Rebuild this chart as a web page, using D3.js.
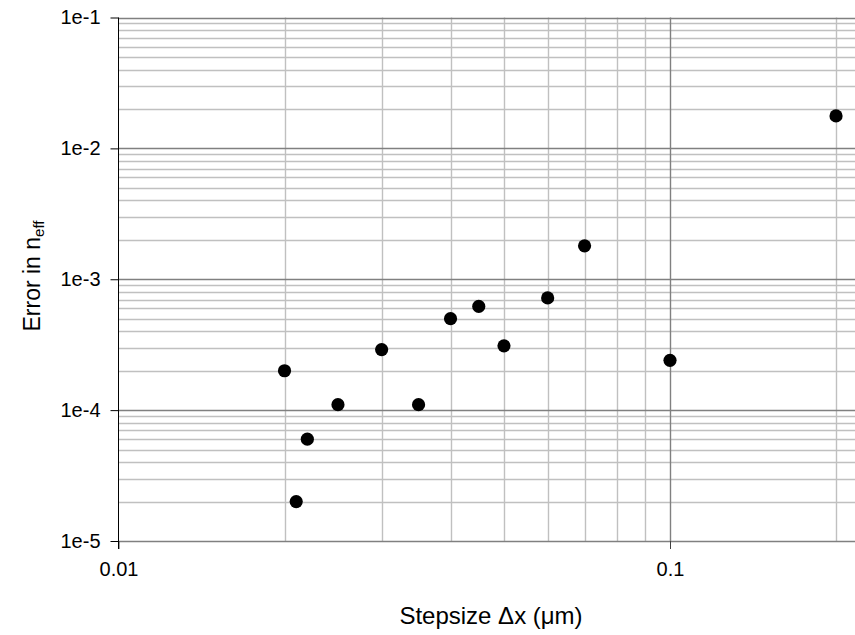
<!DOCTYPE html>
<html>
<head>
<meta charset="utf-8">
<script src="https://cdn.jsdelivr.net/npm/d3@7"></script>
<style>
  body { margin: 0; background: #fff; }
  text { font-family: "Liberation Sans", Arial, sans-serif; }
</style>
</head>
<body>
<svg id="chart"></svg>
<script>
// stepsize (um) vs error in n_eff
var stepsize = [0.02, 0.021, 0.022, 0.025, 0.03, 0.035, 0.04, 0.045, 0.05, 0.06, 0.07, 0.1, 0.2];
var errNeff  = [2.0e-4, 2.0e-5, 6.0e-5, 1.1e-4, 2.9e-4, 1.1e-4, 5.0e-4, 6.2e-4, 3.1e-4, 7.2e-4, 1.8e-3, 2.4e-4, 1.77e-2];

var xTickVals = [0.01, 0.1];
var xTickLabels = ["0.01", "0.1"];
var yTickVals = [1e-5, 1e-4, 1e-3, 1e-2, 1e-1];
var yTickLabels = ["1e-5", "1e-4", "1e-3", "1e-2", "1e-1"];

var svgWidth = 855, svgHeight = 635;
var plotLeft = 118.5, plotTop = 17.5, plotBottom = 541;

var svg = d3.select("#chart")
    .attr("width", svgWidth)
    .attr("height", svgHeight);

var x = d3.scaleLog()
    .domain([0.01, 1])
    .range([plotLeft, plotLeft + 2 * 551.5]);

var y = d3.scaleLog()
    .domain([1e-5, 1e-1])
    .range([plotBottom, plotTop]);

// minor grid values for each decade
function minors(lo, hi) {
  var out = [];
  for (var e = Math.round(Math.log10(lo)); e < Math.round(Math.log10(hi)); e++) {
    for (var k = 2; k <= 9; k++) out.push(k * Math.pow(10, e));
  }
  return out;
}

function px(v) { return Math.round(v) + 0.5; }

var grid = svg.append("g");

grid.selectAll(".hmin")
    .data(minors(1e-5, 1e-1))
    .enter().append("line")
    .attr("x1", plotLeft).attr("x2", svgWidth)
    .attr("y1", function(d) { return px(y(d)); })
    .attr("y2", function(d) { return px(y(d)); })
    .attr("stroke", "#c0c0c0").attr("stroke-width", 1.4);

grid.selectAll(".vmin")
    .data(minors(0.01, 1).filter(function(d) { return x(d) < svgWidth; }))
    .enter().append("line")
    .attr("y1", plotTop).attr("y2", plotBottom)
    .attr("x1", function(d) { return px(x(d)); })
    .attr("x2", function(d) { return px(x(d)); })
    .attr("stroke", "#c0c0c0").attr("stroke-width", 1.4);

grid.selectAll(".hmaj")
    .data(yTickVals)
    .enter().append("line")
    .attr("x1", plotLeft).attr("x2", svgWidth)
    .attr("y1", function(d) { return px(y(d)); })
    .attr("y2", function(d) { return px(y(d)); })
    .attr("stroke", "#808080").attr("stroke-width", 1.4);

grid.selectAll(".vmaj")
    .data([0.1])
    .enter().append("line")
    .attr("y1", plotTop).attr("y2", plotBottom)
    .attr("x1", function(d) { return px(x(d)); })
    .attr("x2", function(d) { return px(x(d)); })
    .attr("stroke", "#808080").attr("stroke-width", 1.4);

// axes
var yAxis = svg.append("g")
    .attr("transform", "translate(" + plotLeft + ",0)")
    .call(d3.axisLeft(y).tickValues(yTickVals)
      .tickFormat(function(d, i) { return yTickLabels[i]; })
      .tickSize(8).tickPadding(10));

var xAxis = svg.append("g")
    .attr("transform", "translate(0," + plotBottom + ")")
    .call(d3.axisBottom(x).tickValues(xTickVals)
      .tickFormat(function(d, i) { return xTickLabels[i]; })
      .tickSize(8).tickPadding(13));

xAxis.select(".domain").remove();
yAxis.select(".domain").remove();

svg.append("line")
    .attr("x1", plotLeft).attr("x2", plotLeft)
    .attr("y1", plotTop).attr("y2", plotBottom + 8)
    .attr("stroke", "#000");

svg.selectAll(".tick text")
    .attr("font-size", 20)
    .attr("font-family", "'Liberation Sans', Arial, sans-serif")
    .attr("fill", "#000");
svg.selectAll(".tick line").attr("stroke", "#000");
xAxis.selectAll(".tick line").attr("stroke", "#404040");

// axis titles
svg.append("text")
    .attr("x", 491)
    .attr("y", 624)
    .attr("text-anchor", "middle")
    .attr("font-size", 24)
    .text("Stepsize \u0394x (\u03bcm)");

var yt = svg.append("text")
    .attr("transform", "translate(40,276) rotate(-90)")
    .attr("text-anchor", "middle")
    .attr("font-size", 23);
yt.append("tspan").text("Error in n");
yt.append("tspan").attr("font-size", 15).attr("dy", 4).text("eff");

// points
svg.selectAll(".dot")
    .data(stepsize)
    .enter().append("circle")
    .attr("cx", function(d) { return x(d); })
    .attr("cy", function(d, i) { return y(errNeff[i]); })
    .attr("r", 6.6)
    .attr("fill", "#000");
</script>
</body>
</html>
